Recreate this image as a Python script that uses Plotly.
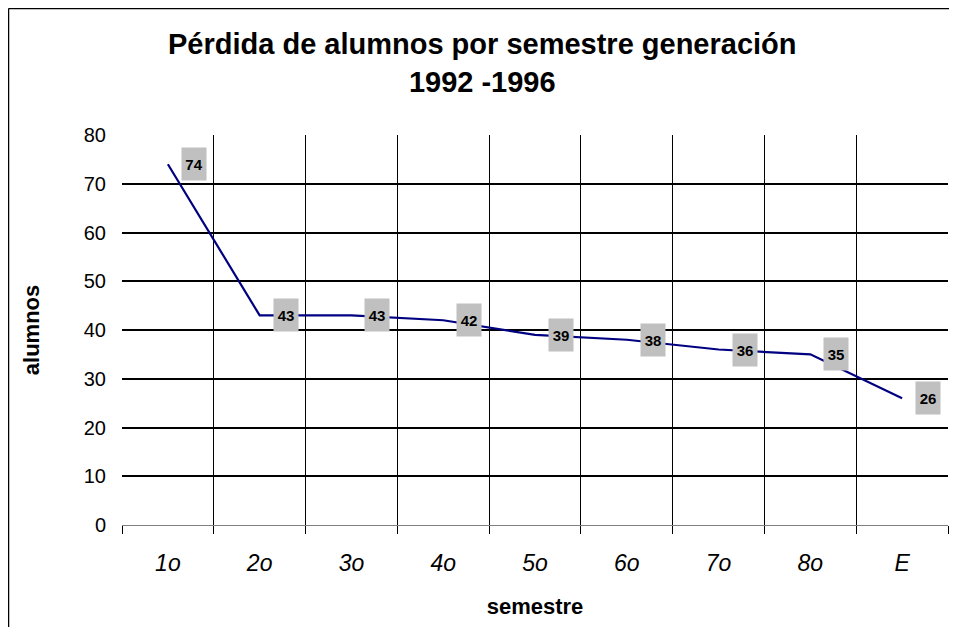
import plotly.graph_objects as go

semestres = ["1o", "2o", "3o", "4o", "5o", "6o", "7o", "8o", "E"]
alumnos = [74, 43, 43, 42, 39, 38, 36, 35, 26]

FONT = "Liberation Sans, Arial, sans-serif"

fig = go.Figure()
fig.add_trace(go.Scatter(
    x=semestres, y=alumnos, mode="lines",
    line=dict(color="#000080", width=2.2),
    hoverinfo="x+y", showlegend=False,
))

for s, v in zip(semestres, alumnos):
    fig.add_annotation(
        x=s, y=v, xref="x", yref="y", text=f"<b>{v}</b>",
        showarrow=False, xshift=26, bgcolor="#C0C0C0",
        width=24, height=32, borderpad=0,
        font=dict(family=FONT, size=15, color="black"),
    )

# outer chart border (left and top edges visible)
fig.add_shape(type="line", xref="paper", yref="paper",
              x0=-0.1374, x1=-0.1374, y0=-0.5, y1=1.3244,
              line=dict(color="black", width=1.5))
fig.add_shape(type="line", xref="paper", yref="paper",
              x0=-0.1374, x1=1.2, y0=1.3244, y1=1.3244,
              line=dict(color="black", width=1.5))

fig.update_layout(
    width=941, height=619,
    margin=dict(l=114, r=1, t=127, b=102),
    paper_bgcolor="white", plot_bgcolor="white",
    title=dict(
        text="<b>Pérdida de alumnos por semestre generación<br>1992 -1996</b>",
        x=0.504, xanchor="center", y=0.925, yanchor="middle",
        font=dict(family=FONT, size=29, color="black"),
    ),
    xaxis=dict(
        type="category", range=[-0.5, 8.5],
        tickson="boundaries", showgrid=True, gridcolor="black", gridwidth=1,
        ticks="outside", ticklen=8, tickcolor="black",
        ticklabelstandoff=17,
        showline=True, linecolor="#808080", linewidth=1,
        tickfont=dict(family=FONT, size=23, color="black", style="italic"),
        title=dict(text="<b>semestre</b>", font=dict(family=FONT, size=22, color="black"), standoff=24),
        zeroline=False,
    ),
    yaxis=dict(
        range=[0, 80], dtick=10, showgrid=True, gridcolor="black", gridwidth=2,
        zeroline=False, showline=False, ticks="",
        ticklabelstandoff=15,
        tickfont=dict(family=FONT, size=20, color="black"),
        title=dict(text="<b>alumnos</b>", font=dict(family=FONT, size=22, color="black"), standoff=38),
    ),
)

fig.write_html("out.html")
